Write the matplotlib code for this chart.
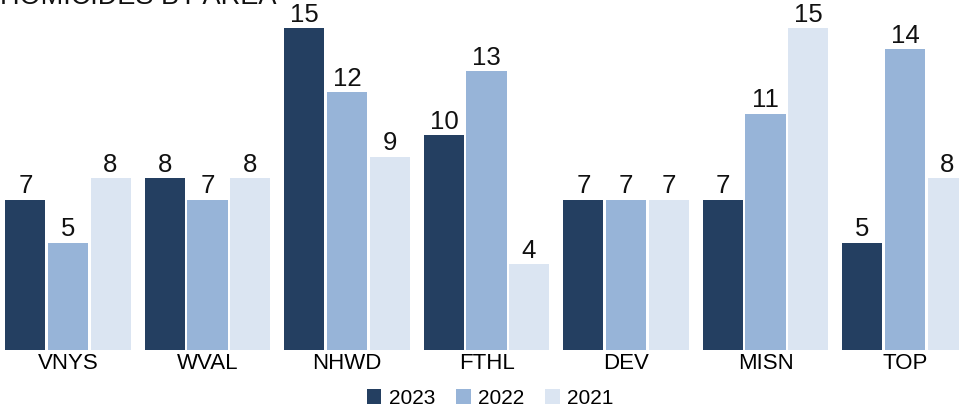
import matplotlib
matplotlib.use("Agg")
from matplotlib import pyplot as plt
import numpy as np

plt.rcParams['font.family'] = ['Liberation Sans', 'DejaVu Sans']

areas = ["VNYS", "WVAL", "NHWD", "FTHL", "DEV", "MISN", "TOP"]
years = ["2023", "2022", "2021"]
homicides_2023 = [7, 8, 15, 10, 7, 7, 5]
homicides_2022 = [5, 7, 12, 13, 7, 11, 14]
homicides_2021 = [8, 8, 9, 4, 7, 15, 8]
colors = ["#243f61", "#97b4d8", "#dbe5f2"]

fig = plt.figure(figsize=(9.59, 4.12), dpi=100)
ax = fig.add_axes([0, 62 / 412, 1, 350 / 412])

x = np.arange(len(areas))
pitch = 0.305
width = 0.287
series = [homicides_2023, homicides_2022, homicides_2021]
for i, (vals, col, yr) in enumerate(zip(series, colors, years)):
    bars = ax.bar(x + (i - 1) * pitch, vals, width, color=col, label=yr)
    for b, v in zip(bars, vals):
        ax.annotate(str(v), (b.get_x() + b.get_width() / 2, v),
                    xytext=(0, 1), textcoords="offset points",
                    ha="center", va="bottom", fontsize=18.5, color="#111111")

ax.set_xlim(-68 / 139.5, (959 - 68) / 139.5)
ax.set_ylim(0, 350 / 21.47)
ax.set_xticks(x)
ax.set_xticklabels(areas, fontsize=16)
ax.tick_params(axis="x", length=0, pad=2)
ax.set_yticks([])
for s in ax.spines.values():
    s.set_visible(False)

fig.text(0.0, 0.99, "HOMICIDES BY AREA", fontsize=19.5, ha="left", va="baseline", color="#111111")

fig.legend(loc="lower center", bbox_to_anchor=(0.511, -0.035), ncol=3, frameon=False,
           fontsize=15, handlelength=0.7, handleheight=0.7, columnspacing=1.0, handletextpad=0.35)

fig.savefig("out.png", dpi=100)
